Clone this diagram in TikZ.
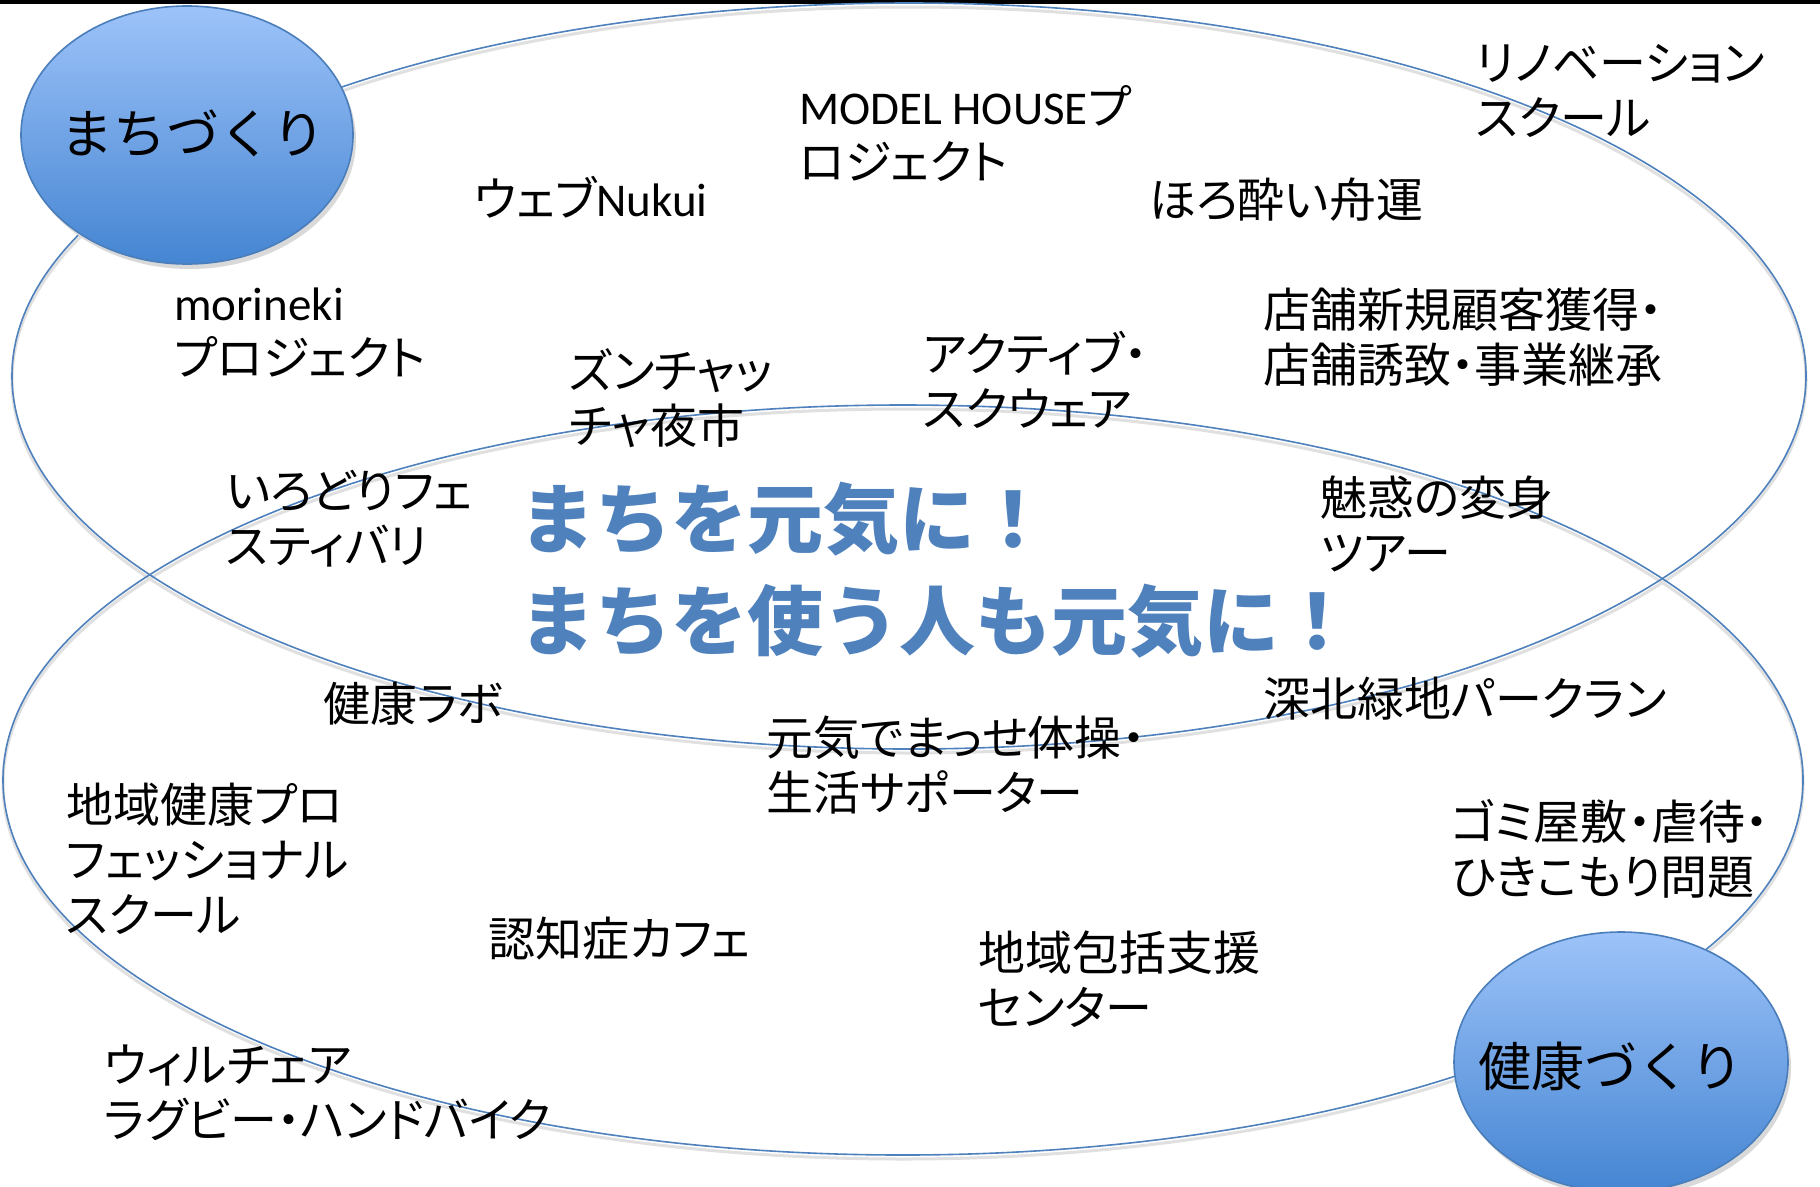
\documentclass[tikz,border=0pt]{standalone}
\usepackage{fontspec}
\setmainfont{Noto Sans CJK JP}[RawFeature=+palt]
\newfontfamily\jpfull{Noto Sans CJK JP}
\newfontfamily\lat{Carlito}
\definecolor{ringblue}{HTML}{4F81BD}
\definecolor{topblue}{HTML}{9DC3F9}
\definecolor{botblue}{HTML}{4585D2}
\definecolor{edgeblue}{HTML}{4A7EBB}
\definecolor{titleblue}{HTML}{4F81BD}
\tikzset{
  ring/.style={draw=ringblue, line width=1.6pt},
  ringshadow/.style={draw=black!12, line width=3pt},
  bubble/.style={draw=edgeblue, line width=1.6pt, top color=topblue, bottom color=botblue},
  bubbletext/.style={font=\jpfull\fontsize{53}{60}\selectfont, text=black},
  lbl/.style={anchor=north west, inner sep=0pt, align=left, text=black,
    font=\fontsize{47}{55}\selectfont},
  title/.style={anchor=north west, inner sep=0pt, align=left, text=titleblue,
    font=\jpfull\fontsize{76}{102}\selectfont\bfseries},
}
\begin{document}
\begin{tikzpicture}[x=1pt,y=-1pt]
\useasboundingbox (0,0) rectangle (1820,1186);
\fill[white] (0,0) rectangle (1820,1186);
\fill[black] (0,0) rectangle (1820,4);
% shadows of the rings
\draw[ringshadow] (909,380) ellipse [x radius=897, y radius=373];
\draw[ringshadow] (903,784) ellipse [x radius=900, y radius=375];
% rings
\draw[ring] (909,376) ellipse [x radius=897, y radius=373];
\draw[ring] (903,780) ellipse [x radius=900, y radius=375];
% bubbles
\fill[black!15] (190,140) ellipse [x radius=166, y radius=129];
\path[bubble] (187,135) ellipse [x radius=166, y radius=129];
\node[bubbletext] (machi) at (193,133) {まちづくり};
\fill[black!15] (1624,1067) ellipse [x radius=167, y radius=130];
\path[bubble] (1621,1062) ellipse [x radius=167, y radius=130];
\node[bubbletext] (kenko) at (1611,1066) {健康づくり};
% labels
\node[lbl] (reno) at (1476,44) {リノベーション\\スクール};
\node[lbl] (model) at (799,85) {{\lat MODEL HOUSE}プ\\ロジェクト};
\node[lbl] (web) at (474,176) {ウェブ{\lat Nukui}};
\node[lbl] (horo) at (1149,178) {ほろ酔い舟運};
\node[lbl] (mori) at (174,288) {{\lat morineki}\\プロジェクト};
\node[lbl] (tenpo) at (1263,288) {店舗新規顧客獲得・\\店舗誘致・事業継承};
\node[lbl] (active) at (923,331) {アクティブ・\\スクウェア};
\node[lbl] (zun) at (569,348) {ズンチャッ\\チャ夜市};
\node[lbl] (iro) at (226,470) {いろどりフェ\\スティバリ};
\node[lbl] (miwaku) at (1320,476) {魅惑の変身\\ツアー};
\node[title] (title) at (519,482) {まちを元気に！\\まちを使う人も元気に！};
\node[lbl] (labo) at (323,682) {健康ラボ};
\node[lbl] (fuka) at (1263,677) {深北緑地パークラン};
\node[lbl] (genki) at (766,716) {元気でまっせ体操・\\生活サポーター};
\node[lbl] (chiiki) at (66,783) {地域健康プロ\\フェッショナル\\スクール};
\node[lbl] (gomi) at (1451,799) {ゴミ屋敷・虐待・\\ひきこもり問題};
\node[lbl] (ninchi) at (488,917) {認知症カフェ};
\node[lbl] (hokatsu) at (978,931) {地域包括支援\\センター};
\node[lbl] (wheel) at (104,1045) {ウィルチェア\\ラグビー・ハンドバイク};
\end{tikzpicture}
\end{document}
